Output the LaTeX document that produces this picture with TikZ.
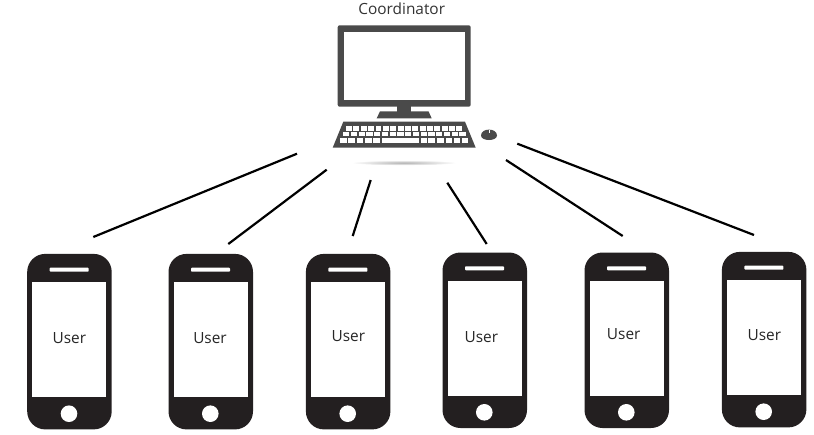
\documentclass[tikz,border=0pt]{standalone}
\usepackage{fontspec}
\setmainfont{Open Sans}
\usetikzlibrary{calc}
\definecolor{pc}{HTML}{4A4A4A}
\definecolor{ph}{HTML}{231F20}
\tikzset{
  link/.style={black,line width=2.2pt},
  label/.style={inner sep=0pt,font=\fontsize{15.4}{17}\selectfont,text=black!85},
  pics/phone/.style={code={
    \node[fill=ph,rounded corners=18pt,minimum width=84.5pt,minimum height=175.5pt,inner sep=0pt,anchor=north west] (#1body) at (0,0) {};
    \fill[white] (5.3,28.6) rectangle (79.3,143.6);
    \fill[white,rounded corners=0.8pt] (22.7,14) rectangle (61.7,18);
    \fill[white] (42,160) circle (8.3pt);
  }}
}
\begin{document}
\begin{tikzpicture}[x=1pt,y=-1pt]
\useasboundingbox (0,0) rectangle (814,434);
% computer
\node[label,text=black!80] (coord) at (401.7,8.5) {Coordinator};
\fill[pc,rounded corners=2pt] (337.7,25.3) rectangle (470.7,106.7);
\fill[white] (344.3,32.3) rectangle (464.7,100);
\fill[pc] (397.3,106) rectangle (411,112);
\fill[pc] (380,111.3) -- (428.5,111.3) -- (431.7,118.3) -- (376.7,118.3) -- cycle;
\fill[pc] (343.3,121.7) -- (465,121.7) -- (475.7,147.7) -- (332.7,147.7) -- cycle;
\foreach \yy/\hh/\xa/\xb in {126.2/4.3/345.3/463, 132/4.4/342.3/466.3}{
  \foreach \k in {0,...,15}{
    \fill[white] ({\xa+\k*(\xb-\xa)/16+0.8},\yy) rectangle ({\xa+(\k+1)*(\xb-\xa)/16-0.6},\yy+\hh);
  }
}
\foreach \p/\q in {340/346.7,348.3/355,356.7/363.3,365/371.7,373.3/380,381.7/419,420.7/426.7,428.3/435,436.7/444,445.7/452.3,453.8/460,461.5/468.3}{
  \fill[white] (\p,138) rectangle (\q,143);
}
\fill[pc] (481,135.5) .. controls (481,131.5) and (485,129.6) .. (489,129.6) .. controls (493,129.6) and (497,131.5) .. (497,135.5) .. controls (497,138.5) and (493,140) .. (489,140) .. controls (485,140) and (481,138.5) .. (481,135.5) -- cycle;
\fill[white] (488.6,129.6) rectangle (489.4,132.6);
\shade[inner color=black!30,outer color=white] (404,162.7) ellipse (53pt and 2.6pt);
% phones
\foreach \n/\x/\y in {1/27/253.7,2/168.3/253.7,3/305.7/253.7,4/442.3/252.3,5/584.3/252.3,6/721.7/251.7}{
  \pic at (\x,\y) {phone=p\n};
}
\node[label] (u1) at (69.3,338) {User};
\node[label] (u2) at (210,338) {User};
\node[label] (u3) at (348.3,336) {User};
\node[label] (u4) at (481.3,337) {User};
\node[label] (u5) at (623.7,334) {User};
\node[label] (u6) at (764.3,335.3) {User};
% connector ends
\coordinate (a1) at (297,153.7); \coordinate (b1) at (93.3,237);
\coordinate (a2) at (326.7,169.7); \coordinate (b2) at (228.3,244);
\coordinate (a3) at (370.7,180); \coordinate (b3) at (352.7,236);
\coordinate (a4) at (447.3,182.7); \coordinate (b4) at (486.7,244);
\coordinate (a5) at (506,160); \coordinate (b5) at (622.7,236);
\coordinate (a6) at (517.3,143.7); \coordinate (b6) at (754,235);
\foreach \i in {1,...,6}{\draw[link] (a\i) -- (b\i);}
\end{tikzpicture}
\end{document}
